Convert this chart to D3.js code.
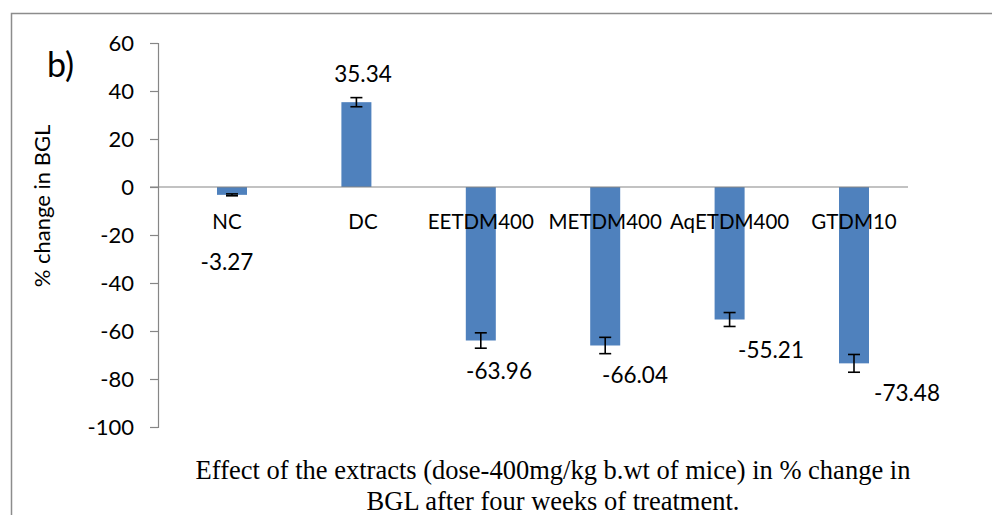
<!DOCTYPE html>
<html lang="en">
<head>
  <meta charset="utf-8">
  <title>% change in BGL</title>
  <script src="https://cdn.jsdelivr.net/npm/d3@7"></script>
  <style>
    body { margin: 0; background: #fff; }
    svg text { font-family: Lato, "Open Sans", sans-serif; fill: #000; }
    .caption { font-family: "Liberation Serif", "Times New Roman", serif !important; }
  </style>
</head>
<body>
  <svg id="chart" width="992" height="515"></svg>
  <script>
    // data
    const categories = ["NC", "DC", "EETDM400", "METDM400", "AqETDM400", "GTDM10"];
    const values = [-3.27, 35.34, -63.96, -66.04, -55.21, -73.48];
    const errors = [0.4, 1.9, 3.2, 3.4, 2.9, 3.7];
    const yTicks = [60, 40, 20, 0, -20, -40, -60, -80, -100];

    const svg = d3.select("#chart");

    // outer frame (only left + top visible in the crop)
    svg.append("path")
      .attr("d", "M11.5,515 V13.5 H992")
      .attr("fill", "none")
      .attr("stroke", "#8c8c8c")
      .attr("stroke-width", 1.5);

    const y = d3.scaleLinear().domain([-100, 60]).range([427, 43]);
    const x = d3.scalePoint().domain(categories).range([232, 854]);
    // data labels sit on their own, wider grid in the original
    const xLab = d3.scalePoint().domain(categories).range([227, 907]);
    const barW = 30;

    // y axis
    const yAxis = svg.append("g")
      .attr("transform", "translate(158,0)")
      .call(d3.axisLeft(y).tickValues(yTicks).tickSize(8).tickPadding(16).tickFormat(d => String(d)));
    yAxis.select(".domain").attr("stroke", "#868686").attr("stroke-width", 1.2);
    yAxis.selectAll(".tick line").attr("stroke", "#868686").attr("stroke-width", 1.2);
    yAxis.selectAll(".tick text").attr("font-size", 22).attr("font-family", "Lato").attr("fill", "#000");

    // bars
    svg.selectAll("rect.bar")
      .data(values)
      .join("rect")
      .attr("class", "bar")
      .attr("x", (d, i) => x(categories[i]) - barW / 2)
      .attr("y", d => y(Math.max(0, d)))
      .attr("width", barW)
      .attr("height", d => Math.abs(y(d) - y(0)))
      .attr("fill", "#4f81bd");

    // zero line
    svg.append("line")
      .attr("x1", 150).attr("x2", 908)
      .attr("y1", y(0)).attr("y2", y(0))
      .attr("stroke", "#868686").attr("stroke-width", 1.2);

    // error bars
    const eb = svg.selectAll("g.err")
      .data(values)
      .join("g")
      .attr("class", "err")
      .attr("stroke", "#000")
      .attr("stroke-width", 1.6);
    eb.append("line")
      .attr("x1", (d, i) => x(categories[i])).attr("x2", (d, i) => x(categories[i]))
      .attr("y1", (d, i) => y(d + errors[i])).attr("y2", (d, i) => y(d - errors[i]));
    eb.append("line")
      .attr("x1", (d, i) => x(categories[i]) - 6).attr("x2", (d, i) => x(categories[i]) + 6)
      .attr("y1", (d, i) => y(d + errors[i])).attr("y2", (d, i) => y(d + errors[i]));
    eb.append("line")
      .attr("x1", (d, i) => x(categories[i]) - 6).attr("x2", (d, i) => x(categories[i]) + 6)
      .attr("y1", (d, i) => y(d - errors[i])).attr("y2", (d, i) => y(d - errors[i]));

    // category labels, just under the zero line
    svg.selectAll("text.cat")
      .data(categories)
      .join("text")
      .attr("class", "cat")
      .attr("x", (d, i) => i < 2 ? xLab(d) : x(d))
      .attr("y", y(0) + 42)
      .attr("text-anchor", "middle")
      .attr("font-size", 20.5)
      .text(d => d);

    // value labels
    svg.selectAll("text.val")
      .data(values)
      .join("text")
      .attr("class", "val")
      .attr("x", (d, i) => xLab(categories[i]))
      .attr("y", (d, i) => {
        if (d > 0) return y(d) - 20;
        if (d > -10) return y(0) + 83;
        return y(d) + 38;
      })
      .attr("text-anchor", "middle")
      .attr("font-size", 22.5)
      .text(d => d.toFixed(2));

    // panel letter
    svg.append("text")
      .attr("x", 47).attr("y", 77)
      .attr("font-size", 34)
      .text("b)");

    // y title
    svg.append("text")
      .attr("transform", "translate(50,206) rotate(-90)")
      .attr("text-anchor", "middle")
      .attr("font-size", 22)
      .text("% change in BGL");

    // caption
    const cap = svg.append("text")
      .attr("class", "caption")
      .attr("text-anchor", "middle")
      .attr("font-size", 26.5);
    cap.append("tspan").attr("x", 553).attr("y", 479)
      .text("Effect of the extracts (dose-400mg/kg b.wt of mice) in % change in");
    cap.append("tspan").attr("x", 553).attr("y", 510)
      .text("BGL after four weeks of treatment.");
  </script>
</body>
</html>
